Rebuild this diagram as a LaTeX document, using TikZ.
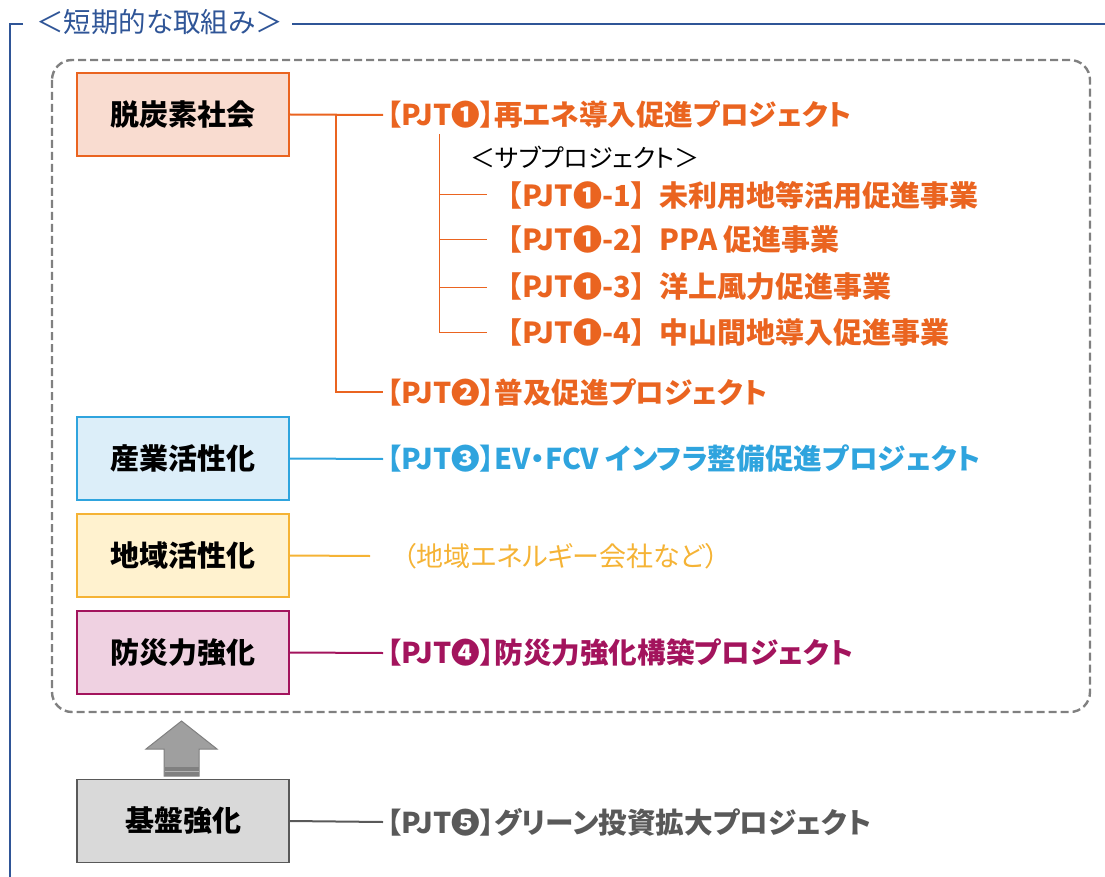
\documentclass[tikz,border=0pt]{standalone}
\usepackage{fontspec}
\setmainfont{Noto Sans CJK JP}
\newfontfamily\pj{Noto Sans CJK JP}[RawFeature=+palt]
\definecolor{cOr}{HTML}{EA6420}
\definecolor{cOrF}{HTML}{F9DCD0}
\definecolor{cBl}{HTML}{2FA4DE}
\definecolor{cBlF}{HTML}{DCEEF9}
\definecolor{cYe}{HTML}{F5B335}
\definecolor{cYeF}{HTML}{FFF2CF}
\definecolor{cMa}{HTML}{A3145D}
\definecolor{cMaF}{HTML}{EFD1E1}
\definecolor{cGr}{HTML}{595959}
\definecolor{cGrF}{HTML}{D9D9D9}
\definecolor{cTi}{HTML}{2F5597}
\definecolor{cDa}{HTML}{808080}
\begin{document}
\begin{tikzpicture}[x=1pt,y=-1pt,
  box/.style={rectangle, minimum width=212pt, minimum height=83pt, line width=1.8pt, font=\pj\fontsize{29}{32}\selectfont\bfseries, text=black},
  ptext/.style={anchor=west, inner sep=0pt, font=\pj\fontsize{28.6}{32}\selectfont\bfseries},
  stext/.style={anchor=west, inner sep=0pt, font=\fontsize{29}{32}\selectfont\bfseries, text=cOr},
  conn/.style={line width=2pt},
  thin/.style={line width=1pt, draw=cOr}]
\useasboundingbox (0,0) rectangle (1105,877);
% frame with title
\node[anchor=west, inner sep=0pt, text=cTi, font=\pj\fontsize{27.5}{30}\selectfont] (title) at (36,22) {＜短期的な取組み＞};
\coordinate (c1) at (23,24);
\coordinate (c0) at (10,24);
\coordinate (c2) at (10,877);
\coordinate (t1) at (292,24);
\coordinate (t2) at (1105,24);
\draw[cTi, line width=2.2pt] (c1) -- (c0) -- (c2);
\draw[cTi, line width=2.2pt] (t1) -- (t2);
% dashed frame
\draw[cDa, line width=2.4pt, dash pattern=on 8pt off 4pt, rounded corners=20pt] (52,60) rectangle (1090,712);
% boxes
\node[box, draw=cOr, fill=cOrF] (b1) at (183,114.5) {脱炭素社会};
\node[box, draw=cBl, fill=cBlF] (b2) at (183,458.5) {産業活性化};
\node[box, draw=cYe, fill=cYeF] (b3) at (183,555.5) {地域活性化};
\node[box, draw=cMa, fill=cMaF] (b4) at (183,652.5) {防災力強化};
\node[box, draw=cGr, fill=cGrF] (b5) at (183,821) {基盤強化};
% project texts
\node[ptext, text=cOr] (p1) at (387,115) {【PJT❶】再エネ導入促進プロジェクト};
\node[ptext, text=cOr] (p2) at (387,392) {【PJT❷】普及促進プロジェクト};
\node[ptext, text=cBl] (p3) at (387,459) {【PJT❸】EV・FCV インフラ整備促進プロジェクト};
\node[anchor=west, inner sep=0pt, text=cYe, font=\pj\fontsize{27}{30}\selectfont] (p5) at (403,556) {（地域エネルギー会社など）};
\node[ptext, text=cMa] (p4) at (387,653) {【PJT❹】防災力強化構築プロジェクト};
\node[ptext, text=cGr] (p6) at (387,822) {【PJT❺】グリーン投資拡大プロジェクト};
% sub projects
\node[anchor=west, inner sep=0pt, font=\pj\fontsize{25}{30}\selectfont, text=black] (sub) at (470,157) {＜サブプロジェクト＞};
\node[stext] (s1) at (493,195) {【PJT❶-1】未利用地等活用促進事業};
\node[stext] (s2) at (493,240) {【PJT❶-2】PPA 促進事業};
\node[stext] (s3) at (493,287) {【PJT❶-3】洋上風力促進事業};
\node[stext] (s4) at (493,332) {【PJT❶-4】中山間地導入促進事業};
% connectors
\coordinate (j1) at (336,115);
\draw[conn, cOr] (b1.east) -- ([xshift=-4pt]p1.west);
\draw[conn, cOr] (j1) |- ([xshift=-4pt]p2.west);
\coordinate (s0) at (439,134);
\draw[thin] (s0) |- ([xshift=-6pt]s4.west);
\draw[thin] (s0 |- s1.west) -- ([xshift=-6pt]s1.west);
\draw[thin] (s0 |- s2.west) -- ([xshift=-6pt]s2.west);
\draw[thin] (s0 |- s3.west) -- ([xshift=-6pt]s3.west);
\draw[conn, cBl] (b2.east) -- ([xshift=-4pt]p3.west);
\draw[conn, cYe] (b3.east) -- ([xshift=-33pt]p5.west);
\draw[conn, cMa] (b4.east) -- ([xshift=-4pt]p4.west);
\draw[conn, cGr] (b5.east) -- ([xshift=-4pt]p6.west);
% up arrow
\draw[fill=gray!75, draw=gray, line width=1pt] (181.5,721) -- (217,749) -- (199,749) -- (199,776) -- (164,776) -- (164,749) -- (146,749) -- cycle;
\fill[gray] (164.5,767) rectangle (198.5,775.5);
\draw[gray!60, line width=0.8pt] (164.5,771) -- (198.5,771);
\end{tikzpicture}
\end{document}
